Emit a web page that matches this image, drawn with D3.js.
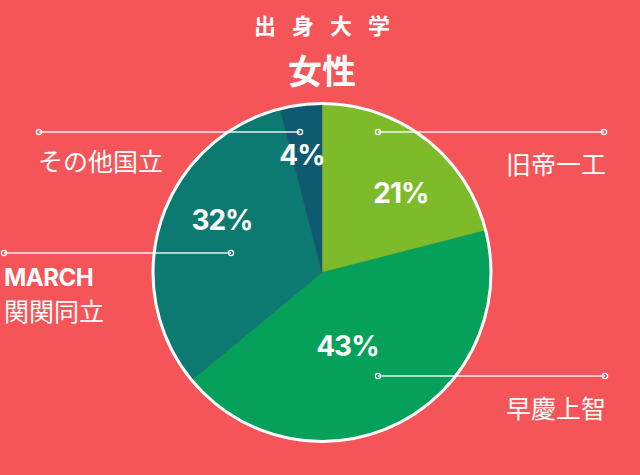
<!DOCTYPE html>
<html><head><meta charset="utf-8">
<script src="https://cdn.jsdelivr.net/npm/d3@7"></script>
<style>html,body{margin:0;padding:0;background:#F55558;}svg{display:block;}</style>
</head><body><svg id="c" width="640" height="475"></svg>
<script>
const categories = ["旧帝一工", "早慶上智", "MARCH 関関同立", "その他国立"];
const values = [21, 43, 32, 4];
const colors = ["#7DBB2A", "#05A05A", "#0C7A71", "#0E5A70"];
const titleText = "出身大学";
const subtitleText = "女性";

const W = 640, H = 475;
const cx = 322, cy = 272.5, R = 169;
const svg = d3.select("#c");
svg.append("rect").attr("width", W).attr("height", H).attr("fill", "#F55558");

const FONT = "'Noto Sans CJK JP','Noto Sans',sans-serif";
svg.append("text").attr("x", cx + 8).attr("y", 24).attr("text-anchor", "middle")
  .attr("dominant-baseline", "central").attr("fill", "#fff")
  .attr("font-family", FONT).attr("font-weight", 700).attr("font-size", 22)
  .attr("letter-spacing", 16).text(titleText);
svg.append("text").attr("x", cx).attr("y", 69).attr("text-anchor", "middle")
  .attr("dominant-baseline", "central").attr("fill", "#fff")
  .attr("font-family", FONT).attr("font-weight", 700).attr("font-size", 34)
  .text(subtitleText);

const data = categories.map((c, i) => ({ cat: c, value: values[i], color: colors[i] }));
const pie = d3.pie().value(d => d.value).sort(null);
const arcs = pie(data);
const arc = d3.arc().innerRadius(0).outerRadius(R);
const g = svg.append("g").attr("transform", `translate(${cx},${cy})`);
g.selectAll("path.slice").data(arcs).join("path").attr("class", "slice")
  .attr("d", arc).attr("fill", d => d.data.color)
  .attr("stroke", d => d.data.color).attr("stroke-width", 0.5);
g.append("circle").attr("r", R).attr("fill", "none").attr("stroke", "#fff").attr("stroke-width", 3);

// label layout (angle in degrees from 12 o'clock, radius)
const labelPos = [[44.8, 112], [161, 78], [297.7, 113], [-9.7, 119]];
g.selectAll("text.pct").data(arcs).join("text").attr("class", "pct")
  .attr("x", (d, i) => labelPos[i][1] * Math.sin(labelPos[i][0] * Math.PI / 180))
  .attr("y", (d, i) => -labelPos[i][1] * Math.cos(labelPos[i][0] * Math.PI / 180))
  .attr("text-anchor", "middle").attr("dominant-baseline", "central")
  .attr("fill", "#fff").attr("font-family", "Inter,'Noto Sans',sans-serif")
  .attr("font-weight", 700).attr("font-size", 28).attr("letter-spacing", -1)
  .text(d => d.data.value + "%");

// leader lines: [innerX, outerX, y]
const leaders = [[378, 604, 132], [378, 605, 376], [231, 4, 253], [300, 39, 132]];
const lg = svg.append("g");
leaders.forEach(l => {
  lg.append("line").attr("x1", l[0]).attr("x2", l[1]).attr("y1", l[2]).attr("y2", l[2])
    .attr("stroke", "#fff").attr("stroke-width", 1.5).attr("opacity", 0.9);
  [l[0], l[1]].forEach(x => lg.append("circle").attr("cx", x).attr("cy", l[2]).attr("r", 2.6)
    .attr("fill", "none").attr("stroke", "#fff").attr("stroke-width", 1.3));
});

// category labels
const catLabels = [
  { lines: [categories[0]], x: 606, y: 163, anchor: "end" },
  { lines: [categories[1]], x: 606, y: 407, anchor: "end" },
  { lines: categories[2].split(" "), x: 4, y: 277, anchor: "start" },
  { lines: [categories[3]], x: 38, y: 160, anchor: "start" }
];
catLabels.forEach(c => {
  c.lines.forEach((t, j) => {
    const latin = /^[A-Z]+$/.test(t);
    svg.append("text").attr("x", c.x).attr("y", c.y + j * 33)
      .attr("text-anchor", c.anchor).attr("dominant-baseline", "central")
      .attr("fill", "#fff").attr("font-family", latin ? "Inter,'Noto Sans',sans-serif" : FONT)
      .attr("font-weight", latin ? 700 : 400).attr("font-size", latin ? 24 : 25)
      .attr("letter-spacing", latin ? -0.5 : 0)
      .text(t);
  });
});
</script></body></html>
